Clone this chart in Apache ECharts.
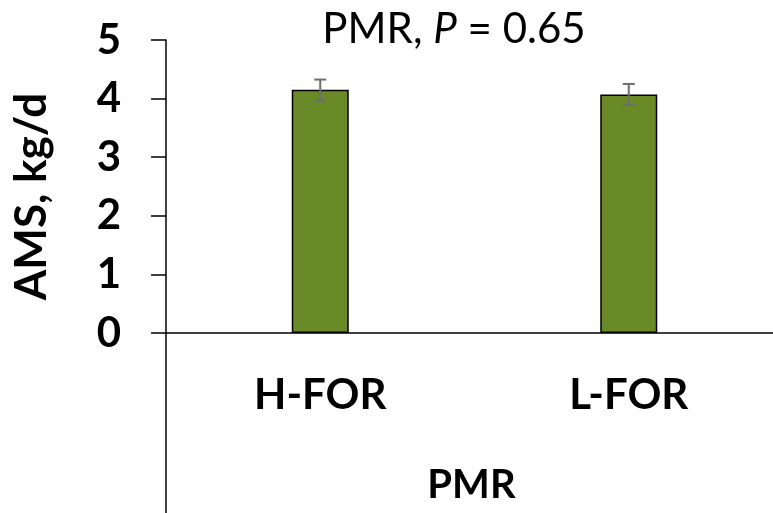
<!DOCTYPE html>
<html>
<head>
<meta charset="utf-8">
<script src="https://cdn.jsdelivr.net/npm/echarts@6/dist/echarts.min.js"></script>
<style>html,body{margin:0;padding:0;background:#fff}#c{width:773px;height:513px}</style>
</head>
<body>
<div id="c"></div>
<script>
var categories = ['H-FOR', 'L-FOR'];
var means = [4.15, 4.07];
var errors = [0.175, 0.18];
var yTicks = [0, 1, 2, 3, 4, 5];

var chart = echarts.init(document.getElementById('c'), null, {renderer: 'canvas'});
var FONT = 'Lato';
var errData = categories.map(function (c, i) { return [i, means[i] - errors[i], means[i] + errors[i]]; });

chart.setOption({
  animation: false,
  backgroundColor: '#ffffff',
  title: {
    text: '{a|PMR, }{b|P}{a| = 0.65}',
    left: 449, top: 3, textAlign: 'center',
    textStyle: {
      fontWeight: 'normal',
      rich: {
        a: {fontFamily: FONT, fontSize: 42, fontWeight: 'normal', color: '#000'},
        b: {fontFamily: FONT, fontSize: 42, fontWeight: 'normal', fontStyle: 'italic', color: '#000'}
      }
    }
  },
  grid: [
    {left: 166, top: 40, bottom: 180, right: -10, containLabel: false, outerBoundsMode: 'none'},
    {left: 166, top: 333, bottom: 0, width: 20, outerBoundsMode: 'none'}
  ],
  xAxis: [{
    type: 'category', data: categories, gridIndex: 0,
    axisLine: {lineStyle: {color: '#000', width: 1.5}},
    axisTick: {show: false},
    axisLabel: {fontFamily: FONT, fontWeight: 'bold', fontSize: 42, color: '#000', margin: 62, verticalAlign: 'middle'},
    name: 'PMR', nameLocation: 'middle', nameGap: 132,
    nameTextStyle: {fontFamily: FONT, fontWeight: 'bold', fontSize: 40, color: '#000', padding: [0, 6, 0, 0]}
  }, {
    type: 'value', gridIndex: 1, show: false, min: 0, max: 1
  }],
  yAxis: [{
    type: 'value', gridIndex: 0, min: yTicks[0], max: yTicks[yTicks.length - 1], interval: 1,
    axisLine: {show: true, lineStyle: {color: '#000', width: 1.5}},
    axisTick: {show: true, inside: false, length: 15, lineStyle: {color: '#000', width: 1.5}},
    splitLine: {show: false},
    axisLabel: {fontFamily: FONT, fontWeight: 'bold', fontSize: 42, color: '#000', margin: 45},
    name: 'AMS, kg/d', nameLocation: 'middle', nameGap: 112, nameRotate: 90,
    nameTextStyle: {fontFamily: FONT, fontWeight: 'bold', fontSize: 44, color: '#000', padding: [0, 20, 0, 0]}
  }, {
    type: 'value', gridIndex: 1, min: 0, max: 1,
    axisLine: {show: true, onZero: false, lineStyle: {color: '#000', width: 1.5}},
    axisTick: {show: false}, axisLabel: {show: false}, splitLine: {show: false}
  }],
  series: [{
    type: 'bar', data: means, barWidth: 57, xAxisIndex: 0, yAxisIndex: 0,
    itemStyle: {color: '#6a8a28', borderColor: '#000', borderWidth: 1.5},
    z: 2
  }, {
    type: 'custom', data: errData, xAxisIndex: 0, yAxisIndex: 0, z: 5,
    renderItem: function (params, api) {
      var x = api.value(0);
      var lo = api.coord([x, api.value(1)]);
      var hi = api.coord([x, api.value(2)]);
      var hw = 6;
      var st = {stroke: '#6d6d6d', lineWidth: 2};
      return {type: 'group', children: [
        {type: 'line', shape: {x1: lo[0], y1: lo[1], x2: hi[0], y2: hi[1]}, style: st},
        {type: 'line', shape: {x1: lo[0] - hw, y1: lo[1], x2: lo[0] + hw, y2: lo[1]}, style: st},
        {type: 'line', shape: {x1: hi[0] - hw, y1: hi[1], x2: hi[0] + hw, y2: hi[1]}, style: st}
      ]};
    }
  }]
});
</script>
</body>
</html>
